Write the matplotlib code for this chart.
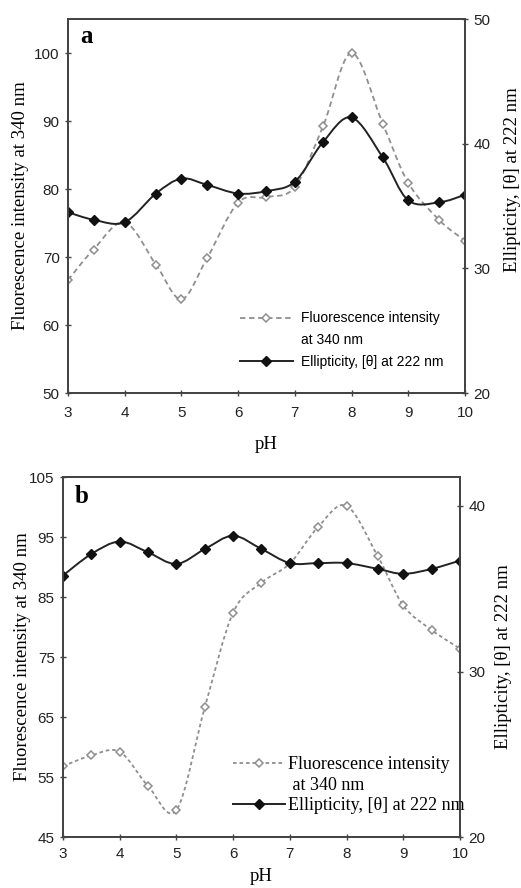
import matplotlib
matplotlib.use("Agg")
import matplotlib.pyplot as plt
from matplotlib.path import Path
from matplotlib.patches import PathPatch
from matplotlib.lines import Line2D

# ---- panel a data ----
ph_a = [3.0, 3.45, 4.0, 4.55, 5.0, 5.45, 6.0, 6.5, 7.0, 7.5, 8.0, 8.55, 9.0, 9.55, 10.0]
fluor_a = [66.6, 71.1, 75.1, 68.9, 63.8, 69.8, 78.0, 78.8, 80.3, 89.3, 100.0, 89.6, 80.9, 75.4, 72.4]
ellip_a = [34.5, 33.9, 33.7, 36.0, 37.2, 36.7, 36.0, 36.2, 36.95, 40.15, 42.1, 38.9, 35.45, 35.3, 35.9]

# ---- panel b data ----
ph_b = [3.0, 3.5, 4.0, 4.5, 5.0, 5.5, 6.0, 6.5, 7.0, 7.5, 8.0, 8.55, 9.0, 9.5, 10.0]
fluor_b = [56.8, 58.6, 59.2, 53.5, 49.5, 66.6, 82.4, 87.4, 90.6, 96.7, 100.2, 91.8, 83.6, 79.5, 76.4]
ellip_b = [35.8, 37.1, 37.85, 37.2, 36.5, 37.4, 38.2, 37.4, 36.55, 36.55, 36.55, 36.2, 35.9, 36.2, 36.7]

x_ticks = [3, 4, 5, 6, 7, 8, 9, 10]

serif = "Liberation Serif"
sans = "Liberation Sans"


def smooth_line(ax, x, y, **kw):
    # excel-like smoothed line: cubic bezier through the points
    verts = [(x[0], y[0])]
    codes = [Path.MOVETO]
    n = len(x)
    for i in range(n - 1):
        xp, yp = (x[i - 1], y[i - 1]) if i > 0 else (x[i], y[i])
        xn, yn = (x[i + 2], y[i + 2]) if i + 2 < n else (x[i + 1], y[i + 1])
        c1 = (x[i] + (x[i + 1] - xp) / 6, y[i] + (y[i + 1] - yp) / 6)
        c2 = (x[i + 1] - (xn - x[i]) / 6, y[i + 1] - (yn - y[i]) / 6)
        verts += [c1, c2, (x[i + 1], y[i + 1])]
        codes += [Path.CURVE4] * 3
    ax.add_patch(PathPatch(Path(verts, codes), fill=False, **kw))


def style_axis(ax, xpad):
    for s in ax.spines.values():
        s.set_color("#444444")
        s.set_linewidth(1.3)
    ax.tick_params(direction="inout", length=5, width=1, color="#444444",
                   labelsize=11, labelcolor="#222222")
    ax.tick_params(axis="x", pad=xpad)
    for lab in ax.get_xticklabels() + ax.get_yticklabels():
        lab.set_family(sans)


fig = plt.figure(figsize=(5.21, 8.88), dpi=100)

panels = [
    dict(rect=[0.1305, 0.5574, 0.762, 0.4212], ph=ph_a, fl=fluor_a, el=ellip_a,
         ylim=(50, 105), yticks=range(50, 101, 10), ylim2=(20, 50), yticks2=[20, 30, 40, 50],
         letter="a", letter_pos=(0.03, 0.985), dash=(0, (3, 2)),
         leg_font=sans, leg_size=10, leg_anchor=(0.433, 0.218), handle_len=3.8, text_pad=0.6,
         leg_space=0.55, second="at 340 nm", xpad=11, tpad=7,
         lab_left=-0.098, lab_right=(1.098, 0.57)),
    dict(rect=[0.1209, 0.0574, 0.762, 0.4054], ph=ph_b, fl=fluor_b, el=ellip_b,
         ylim=(45, 105), yticks=range(45, 106, 10), ylim2=(20, 41.75), yticks2=[20, 30, 40],
         letter="b", letter_pos=(0.03, 0.978), dash=(0, (2, 1.6)),
         leg_font=serif, leg_size=13, leg_anchor=(0.428, 0.225), handle_len=2.9, text_pad=0.15,
         leg_space=0.2, second=" at 340 nm", xpad=5, tpad=5,
         lab_left=-0.08, lab_right=(1.088, 0.5)),
]

for p in panels:
    ax = fig.add_axes(p["rect"])
    ax2 = ax.twinx()

    smooth_line(ax, p["ph"], p["fl"], edgecolor="#8f8f8f", linewidth=1.3, linestyle=p["dash"])
    ax.plot(p["ph"], p["fl"], linestyle="none", marker="D", markersize=4.2,
            markerfacecolor="white", markeredgecolor="#8f8f8f", markeredgewidth=1.1)

    smooth_line(ax2, p["ph"], p["el"], edgecolor="#222222", linewidth=1.4)
    ax2.plot(p["ph"], p["el"], linestyle="none", marker="D", markersize=4.8,
             color="#111111")

    ax.set_xlim(3, 10)
    ax.set_xticks(x_ticks)
    ax.set_ylim(*p["ylim"])
    ax.set_yticks(list(p["yticks"]))
    ax2.set_ylim(*p["ylim2"])
    ax2.set_yticks(p["yticks2"])
    style_axis(ax, p["tpad"])
    style_axis(ax2, p["tpad"])

    ax.set_xlabel("pH", family=serif, fontsize=13.5, labelpad=p["xpad"])
    ax.set_ylabel("Fluorescence intensity at 340 nm", family=serif, fontsize=13.5)
    ax.yaxis.set_label_coords(p["lab_left"], 0.5)
    ax2.set_ylabel("Ellipticity, [θ] at 222 nm", family=serif, fontsize=13.5)
    ax2.yaxis.set_label_coords(*p["lab_right"])

    ax.text(p["letter_pos"][0], p["letter_pos"][1], p["letter"], transform=ax.transAxes,
            family=serif, fontsize=18, fontweight="bold", va="top", ha="left")

    h1 = Line2D([], [], color="#8f8f8f", linewidth=1.3, linestyle=p["dash"], marker="D",
                markersize=4.2, markerfacecolor="white", markeredgecolor="#8f8f8f",
                markeredgewidth=1.1)
    h0 = Line2D([], [], linestyle="none")
    h2 = Line2D([], [], color="#222222", linewidth=1.4, marker="D", markersize=4.8,
                markerfacecolor="#111111", markeredgecolor="#111111")
    ax2.legend([h1, h0, h2], ["Fluorescence intensity", p["second"], "Ellipticity, [θ] at 222 nm"],
               loc="upper left", bbox_to_anchor=p["leg_anchor"], frameon=False,
               prop=dict(family=p["leg_font"], size=p["leg_size"]),
               handlelength=p["handle_len"], handletextpad=p["text_pad"], borderpad=0,
               borderaxespad=0, labelspacing=p["leg_space"], numpoints=1)

fig.savefig("out.png", dpi=100)
